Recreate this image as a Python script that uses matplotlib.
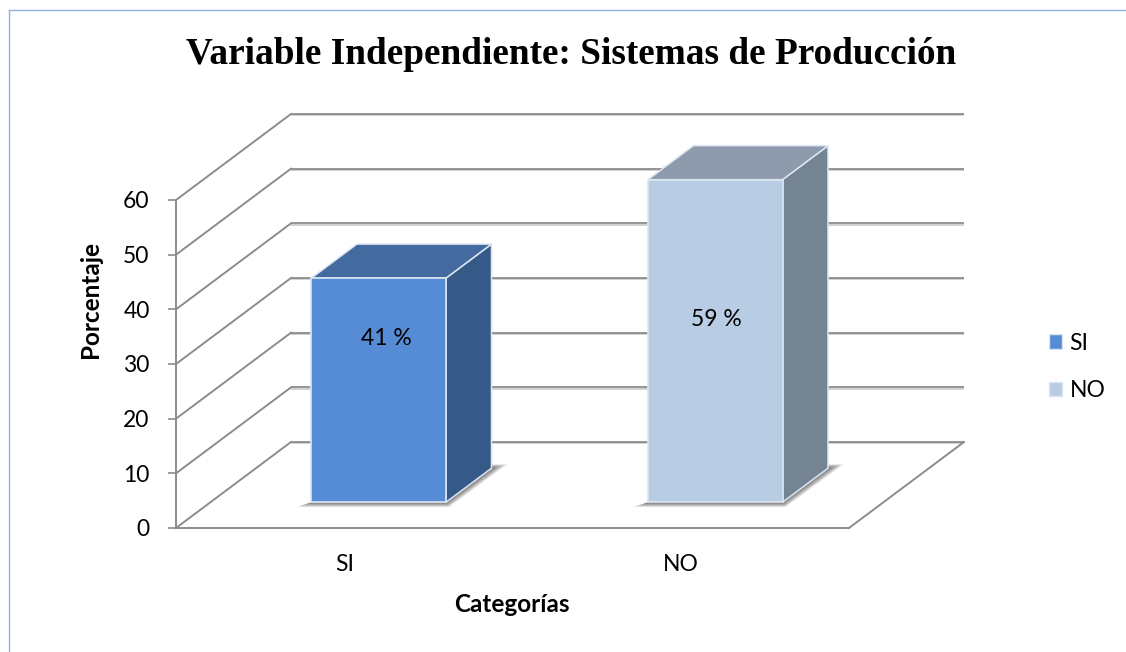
import matplotlib
matplotlib.use("Agg")
import matplotlib.pyplot as plt
import matplotlib.patheffects as pe
from matplotlib.lines import Line2D
from matplotlib.patches import Patch, Polygon
from matplotlib.transforms import Affine2D, IdentityTransform

TITLE = "Variable Independiente: Sistemas de Producción"
categories = ["SI", "NO"]
values = [41, 59]
value_labels = ["41 %", "59 %"]
y_ticks = [0, 10, 20, 30, 40, 50, 60]

W, H = 1126, 652
FONT = "Lato"
TICK_SIZE = 16.5
LABEL_SIZE = 17.5
GRID = "#8c8c8c"
# depth of the fake 3d box, in pixels
DEPTH_X, DEPTH_Y = 115, 86
BAR_FRONT, BAR_BACK = 0.30, 0.695
BAR_WIDTH = 0.40

front_colors = ["#568cd6", "#b8cce4"]
top_colors = ["#436b9f", "#8d9bad"]
side_colors = ["#355a87", "#748493"]

fig = plt.figure(figsize=(W / 100, H / 100), dpi=100)
ax = fig.add_axes([176 / W, (H - 528) / H, 673 / W, 328 / H])
ax.set_xlim(-0.5, 1.5)
ax.set_ylim(0, 60)
ax.patch.set_alpha(0)


def shifted(d):
    return ax.transData + Affine2D().translate(DEPTH_X * d, DEPTH_Y * d)


def project(x, v, d, px=0, py=0):
    # data + depth -> display pixels
    xd, yd = ax.transData.transform((x, v))
    return xd + DEPTH_X * d + px, yd + DEPTH_Y * d + py


def face(points, color, z, edge="#dce6f2", lw=1.1, alpha=None):
    ax.add_patch(Polygon(points, closed=True, facecolor=color, edgecolor=edge, linewidth=lw,
                         alpha=alpha, transform=IdentityTransform(), clip_on=False, zorder=z))


soft = [pe.SimpleLineShadow(offset=(0, -1), alpha=0.2), pe.Normal()]

# walls and floor
for t in y_ticks:
    ax.plot([-0.5, 1.5], [t, t], transform=shifted(1), color=GRID, lw=1.3, clip_on=False,
            zorder=1, path_effects=soft, solid_capstyle="butt")
    x0, y0 = project(-0.5, t, 0)
    x1, y1 = project(-0.5, t, 1)
    ax.add_line(Line2D([x0, x1], [y0, y1], transform=IdentityTransform(), color=GRID, lw=1.4,
                       clip_on=False, zorder=1))
x0, y0 = project(1.5, 0, 0)
x1, y1 = project(1.5, 0, 1)
ax.add_line(Line2D([x0, x1], [y0, y1], transform=IdentityTransform(), color=GRID, lw=1.4,
                   clip_on=False, zorder=1))

# bars
for i, (cat, val) in enumerate(zip(categories, values)):
    left, right = i - BAR_WIDTH / 2, i + BAR_WIDTH / 2

    # blurry shadow on the floor
    steps = 9
    for s in range(1, steps + 1):
        e = (steps + 1 - s) / steps
        face([project(left, 0, BAR_FRONT),
              project(left, 0, BAR_FRONT, -15 * e, -5 * e),
              project(right, 0, BAR_FRONT, 3 * e, -5 * e),
              project(right, 0, BAR_BACK, 16 * e, 4 * e),
              project(right, 0, BAR_BACK, 0, 4 * e),
              project(right, 0, BAR_BACK)],
             "black", 2, edge="none", lw=0, alpha=0.075)

    face([project(right, 0, BAR_FRONT), project(right, 0, BAR_BACK),
          project(right, val, BAR_BACK), project(right, val, BAR_FRONT)], side_colors[i], 3)
    face([project(left, val, BAR_FRONT), project(right, val, BAR_FRONT),
          project(right, val, BAR_BACK), project(left, val, BAR_BACK)], top_colors[i], 3)
    ax.bar(i, val, BAR_WIDTH, color=front_colors[i], edgecolor="#dce6f2", linewidth=1.2,
           transform=shifted(BAR_FRONT), clip_on=False, zorder=4)

label_offsets = [(8, -60), (1, -140)]
for i, lab in enumerate(value_labels):
    ax.annotate(lab, xy=(i, values[i]), xycoords=shifted(BAR_FRONT),
                xytext=label_offsets[i], textcoords="offset pixels", ha="center", va="center",
                fontsize=TICK_SIZE, family=FONT, color="black", zorder=6)

# axes
for side in ["top", "right"]:
    ax.spines[side].set_visible(False)
for side in ["left", "bottom"]:
    ax.spines[side].set_color(GRID)
    ax.spines[side].set_linewidth(1.4)
    ax.spines[side].set_zorder(1)
ax.set_xticks(range(len(categories)))
ax.set_xticklabels(categories, family=FONT, fontsize=TICK_SIZE)
ax.set_yticks(y_ticks)
ax.set_yticklabels([str(t) for t in y_ticks], family=FONT, fontsize=TICK_SIZE)
ax.tick_params(axis="x", length=0, pad=19)
ax.tick_params(axis="y", length=6, width=1.2, color=GRID, pad=13)
ax.set_xlabel("Categorías", family=FONT, fontsize=LABEL_SIZE, fontweight="bold")
ax.set_ylabel("Porcentaje", family=FONT, fontsize=LABEL_SIZE, fontweight="bold")
ax.xaxis.set_label_coords(336 / 673, -65 / 328)
ax.yaxis.set_label_coords(-74 / 673, 229 / 328)

fig.text(571 / W, 1 - 55 / H, TITLE, ha="center", va="center", family="Liberation Serif",
         fontweight="bold", fontsize=26.8)

handles = [Patch(facecolor=c, edgecolor="#dce6f2", linewidth=1) for c in front_colors]
fig.legend(handles, categories, loc="center left", bbox_to_anchor=(1049 / W, 1 - 367 / H),
           frameon=False, handlelength=0.55, handleheight=0.6, handletextpad=0.35,
           labelspacing=1.15, borderpad=0, borderaxespad=0,
           prop={"family": FONT, "size": TICK_SIZE})

# border of the pasted chart
BORDER = "#8fb4e3"
fig.add_artist(Line2D([9 / W, 9 / W], [0, 1 - 10 / H], transform=fig.transFigure, color=BORDER, lw=1))
fig.add_artist(Line2D([9 / W, 1], [1 - 10 / H, 1 - 10 / H], transform=fig.transFigure, color=BORDER, lw=1))

fig.savefig("out.png", dpi=100)
